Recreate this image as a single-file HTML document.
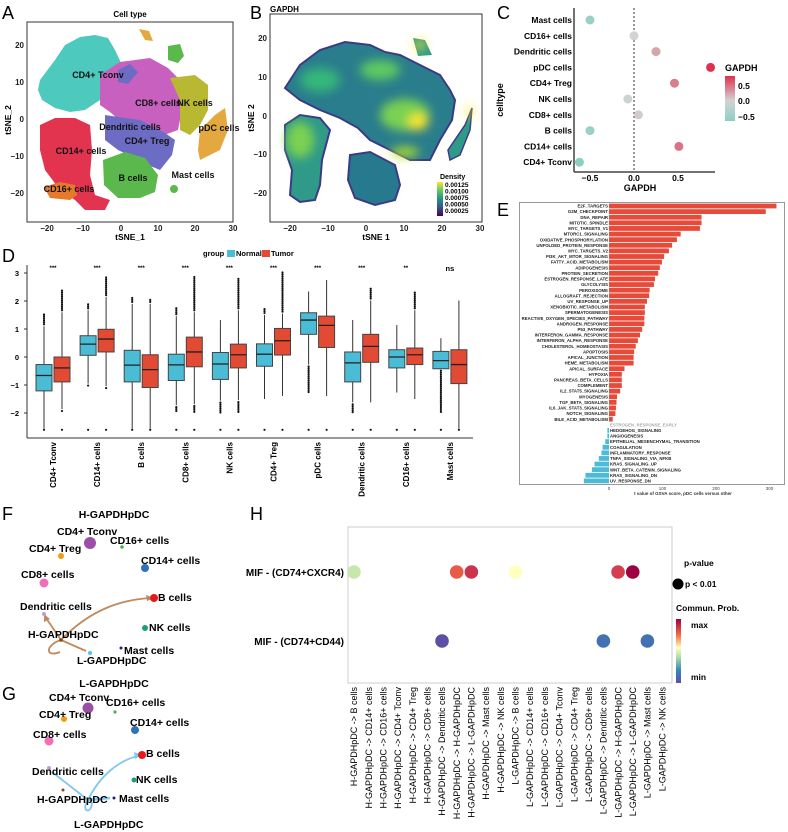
<!DOCTYPE html>
<html><head><meta charset="utf-8"><style>
html,body{margin:0;padding:0;background:#fff;}
svg{display:block;font-family:"Liberation Sans",Arial,sans-serif;}
.b{font-weight:bold;}
</style></head><body>
<svg id="fig" width="788" height="832" viewBox="0 0 788 832">
<defs>
<filter id="bl" x="-50%" y="-50%" width="200%" height="200%"><feGaussianBlur stdDeviation="5"/></filter>
<linearGradient id="vir" x1="0" y1="1" x2="0" y2="0"><stop offset="0" stop-color="#440154"/><stop offset="0.25" stop-color="#3b528b"/><stop offset="0.5" stop-color="#21918c"/><stop offset="0.75" stop-color="#5ec962"/><stop offset="1" stop-color="#fde725"/></linearGradient>
<linearGradient id="gcol" x1="0" y1="1" x2="0" y2="0"><stop offset="0" stop-color="#8ecfc5"/><stop offset="0.45" stop-color="#d3d3d3"/><stop offset="1" stop-color="#e0304f"/></linearGradient>
<linearGradient id="spec" x1="0" y1="1" x2="0" y2="0"><stop offset="0" stop-color="#5e4fa2"/><stop offset="0.2" stop-color="#3288bd"/><stop offset="0.4" stop-color="#abdda4"/><stop offset="0.55" stop-color="#ffffbf"/><stop offset="0.75" stop-color="#f46d43"/><stop offset="1" stop-color="#9e0142"/></linearGradient>
<clipPath id="bclip"><rect x="271" y="15" width="210" height="206"/></clipPath>
</defs>

<!-- Panel letters -->
<text x="2" y="19" font-size="18">A</text>
<text x="250" y="19" font-size="18">B</text>
<text x="497" y="19" font-size="18">C</text>
<text x="497" y="216" font-size="18">E</text>
<text x="2" y="262" font-size="18">D</text>
<text x="2" y="520" font-size="18">F</text>
<text x="250" y="520" font-size="18">H</text>
<text x="2" y="700" font-size="18">G</text>

<!-- Panel A -->
<g id="panelA">
<text x="130" y="17" font-size="8" class="b" text-anchor="middle">Cell type</text>
<polygon fill="#4ec9be" points="38,90 40,80 55,60 65,45 80,37 95,35 108,38 115,50 122,65 112,80 100,100 85,110 70,112 55,108 42,100"/>
<polygon fill="#c760bf" points="100,75 120,62 150,58 168,68 180,80 182,110 178,130 150,140 125,125 110,112 100,105"/>
<polygon fill="#6d6cc5" points="105,115 125,118 140,120 165,133 175,140 172,155 160,170 148,165 135,158 118,150 105,140"/>
<polygon fill="#6d6cc5" points="118,70 130,64 138,72 128,84 118,82"/>
<polygon fill="#b8b832" points="170,78 195,75 208,85 208,110 200,125 190,135 180,130 180,100"/>
<polygon fill="#e3a83e" points="200,130 215,115 225,108 228,130 220,150 200,160 198,150"/>
<polygon fill="#e2344f" points="40,125 55,118 75,118 90,125 92,150 90,175 95,195 110,200 105,210 85,210 75,200 60,190 45,170 40,150"/>
<polygon fill="#e67a2a" points="44,187 60,182 75,185 77,195 70,200 50,198"/>
<polygon fill="#5bb84c" points="103,160 125,152 145,158 158,175 155,192 140,198 118,198 104,185"/>
<polygon fill="#5bb84c" points="168,46 180,44 184,56 178,63 168,60"/>
<polygon fill="#e3a83e" points="139,29 149,31 153,41 145,40"/>
<circle cx="174" cy="189" r="4" fill="#5bb84c"/>
<rect x="27" y="22" width="206" height="200" fill="none" stroke="#333" stroke-width="1"/>
<g font-size="9" class="b" text-anchor="middle" fill="#111">
<text x="98" y="78">CD4+ Tconv</text>
<text x="158" y="106">CD8+ cells</text>
<text x="195" y="106">NK cells</text>
<text x="130" y="130">Dendritic cells</text>
<text x="219" y="131">pDC cells</text>
<text x="147" y="144">CD4+ Treg</text>
<text x="81" y="154">CD14+ cells</text>
<text x="193" y="178">Mast cells</text>
<text x="133" y="181">B cells</text>
<text x="69" y="192">CD16+ cells</text>
</g>
<g font-size="8" class="b" fill="#222">
<text x="47" y="231" text-anchor="middle">−20</text><text x="83" y="231" text-anchor="middle">−10</text><text x="121" y="231" text-anchor="middle">0</text><text x="158" y="231" text-anchor="middle">10</text><text x="195" y="231" text-anchor="middle">20</text><text x="233" y="231" text-anchor="middle">30</text>
<text x="24" y="48" text-anchor="end">20</text><text x="24" y="85" text-anchor="end">10</text><text x="24" y="122" text-anchor="end">0</text><text x="24" y="159" text-anchor="end">−10</text><text x="24" y="196" text-anchor="end">−20</text>
</g>
<text x="130" y="240" font-size="8.5" class="b" text-anchor="middle">tSNE_1</text>
<text x="11" y="120" font-size="8.5" class="b" text-anchor="middle" transform="rotate(-90 11 120)">tSNE_2</text>
</g>

<!-- Panel B -->
<g id="panelB">
<text x="270" y="12" font-size="8" class="b">GAPDH</text>
<g clip-path="url(#bclip)">
<polygon fill="#2a7d8c" stroke="#3b3b85" stroke-width="2" points="285,88 300,65 320,50 345,42 370,45 385,52 400,55 420,65 440,75 450,90 455,100 452,120 440,140 430,160 410,160 390,150 370,140 358,128 340,118 320,110 300,100"/>
<polygon fill="#2f9a88" stroke="#3b3b85" stroke-width="2" points="285,125 300,115 320,118 330,130 322,160 320,185 315,200 300,202 290,195 292,170 285,150"/>
<polygon fill="#277a8e" stroke="#3b3b85" stroke-width="2" points="350,155 370,152 395,165 400,185 395,200 375,205 355,198 348,180"/>
<polygon fill="#2f9a88" stroke="#3b3b85" stroke-width="1.5" points="448,150 465,125 472,108 470,130 460,155 450,160"/>
<polygon fill="#2f9a88" points="413,38 425,40 432,55 418,56"/>
<g filter="url(#bl)">
<ellipse cx="405" cy="115" rx="25" ry="16" fill="#7ad151"/><ellipse cx="418" cy="122" rx="10" ry="8" fill="#fde725"/>
<ellipse cx="380" cy="70" rx="20" ry="10" fill="#5ec962"/><ellipse cx="300" cy="140" rx="14" ry="18" fill="#7ad151"/>
<ellipse cx="405" cy="152" rx="14" ry="5" fill="#b5de2b"/><ellipse cx="420" cy="45" rx="5" ry="5" fill="#fde725"/>
<ellipse cx="320" cy="80" rx="20" ry="12" fill="#35b779"/><ellipse cx="470" cy="112" rx="3" ry="6" fill="#fde725"/>
</g>
</g>
<rect x="270" y="14" width="212" height="208" fill="none" stroke="#333" stroke-width="1"/>
<text x="440" y="179" font-size="7" class="b">Density</text>
<rect x="437" y="182" width="6" height="34" fill="url(#vir)"/>
<g font-size="6.5" class="b"><text x="445" y="187">0.00125</text><text x="445" y="193.5">0.00100</text><text x="445" y="200">0.00075</text><text x="445" y="206.5">0.00050</text><text x="445" y="213">0.00025</text></g>
<g font-size="8" class="b" fill="#222">
<text x="290" y="231" text-anchor="middle">−20</text><text x="328" y="231" text-anchor="middle">−10</text><text x="366" y="231" text-anchor="middle">0</text><text x="404" y="231" text-anchor="middle">10</text><text x="442" y="231" text-anchor="middle">20</text><text x="480" y="231" text-anchor="middle">30</text>
<text x="267" y="41" text-anchor="end">20</text><text x="267" y="80" text-anchor="end">10</text><text x="267" y="119" text-anchor="end">0</text><text x="267" y="157" text-anchor="end">−10</text><text x="267" y="196" text-anchor="end">−20</text>
</g>
<text x="376" y="240" font-size="8.5" class="b" text-anchor="middle">tSNE 1</text>
<text x="254" y="118" font-size="8.5" class="b" text-anchor="middle" transform="rotate(-90 254 118)">tSNE 2</text>
</g>

<g id="panelC"></g>
<g id="panelD"></g>
<g id="panelE"></g>

<!-- Panel F -->
<g id="panelF" font-size="10.5" class="b">
<text x="114" y="518" text-anchor="middle">H-GAPDHpDC</text>
<path d="M61,640 C90,610 120,600 150,598" fill="none" stroke="#c08a5e" stroke-width="1.8"/>
<polygon points="154,598 146,595 147,601" fill="#c08a5e"/>
<path d="M61,640 L46,618" fill="none" stroke="#c08a5e" stroke-width="1.8"/>
<polygon points="44,614 44,622 50,619" fill="#c08a5e"/>
<path d="M61,640 L86,651" fill="none" stroke="#c08a5e" stroke-width="1.8"/>
<path d="M61,640 C45,645 45,658 60,652" fill="none" stroke="#c08a5e" stroke-width="1.8"/>
<circle cx="90" cy="543" r="6" fill="#9b4fa6"/><circle cx="122" cy="547" r="1.8" fill="#4caf50"/>
<circle cx="61" cy="556" r="3" fill="#f39c12"/><circle cx="145" cy="568" r="4" fill="#2f72b8"/>
<circle cx="44" cy="583" r="4.5" fill="#f06fb8"/><circle cx="154" cy="598" r="4" fill="#e41a1c"/>
<circle cx="44" cy="614" r="2" fill="#c39bd3"/><circle cx="145" cy="628" r="3" fill="#1a9e77"/>
<circle cx="61" cy="640" r="1.8" fill="#8b4513"/><circle cx="121" cy="648" r="1.5" fill="#1a237e"/>
<circle cx="90" cy="653" r="2" fill="#4fc3f7"/>
<text x="57" y="535">CD4+ Tconv</text><text x="110" y="544">CD16+ cells</text>
<text x="29" y="552">CD4+ Treg</text><text x="141" y="564">CD14+ cells</text>
<text x="21" y="578">CD8+ cells</text><text x="158" y="601">B cells</text>
<text x="20" y="610">Dendritic cells</text><text x="149" y="631">NK cells</text>
<text x="28" y="638">H-GAPDHpDC</text><text x="124" y="654">Mast cells</text>
<text x="77" y="664">L-GAPDHpDC</text>
</g>

<!-- Panel G -->
<g id="panelG" font-size="10.5" class="b">
<text x="114" y="687" text-anchor="middle">L-GAPDHpDC</text>
<path d="M88,800 C100,775 120,760 138,756" fill="none" stroke="#81c8ef" stroke-width="1.8"/>
<polygon points="142,755 134,752 135,759" fill="#81c8ef"/>
<path d="M88,800 L52,772" fill="none" stroke="#81c8ef" stroke-width="1.8"/>
<path d="M88,800 L110,798" fill="none" stroke="#81c8ef" stroke-width="2.5"/>
<path d="M88,800 C80,812 92,815 92,802" fill="none" stroke="#81c8ef" stroke-width="1.8"/>
<circle cx="88" cy="708" r="5.5" fill="#9b4fa6"/><circle cx="115" cy="712" r="1.6" fill="#4caf50"/>
<circle cx="64" cy="719" r="3" fill="#f39c12"/><circle cx="135" cy="730" r="4" fill="#2f72b8"/>
<circle cx="49" cy="741" r="4.5" fill="#f06fb8"/><circle cx="142" cy="755" r="4" fill="#e41a1c"/>
<circle cx="49" cy="768" r="2" fill="#c39bd3"/><circle cx="134" cy="780" r="2.5" fill="#1a9e77"/>
<circle cx="63" cy="790" r="1.5" fill="#8b4513"/><circle cx="114" cy="798" r="1.5" fill="#1a237e"/>
<text x="49" y="701">CD4+ Tconv</text><text x="106" y="706">CD16+ cells</text>
<text x="39" y="718">CD4+ Treg</text><text x="130" y="726">CD14+ cells</text>
<text x="33" y="738">CD8+ cells</text><text x="146" y="757">B cells</text>
<text x="32" y="775">Dendritic cells</text><text x="136" y="783">NK cells</text>
<text x="37" y="803">H-GAPDHpDC</text><text x="119" y="802">Mast cells</text>
<text x="74" y="828">L-GAPDHpDC</text>
</g>

<g id="panelH"></g>
</svg>

<script>
// ---------- Panel C data ----------
var cCells = ["Mast cells","CD16+ cells","Dendritic cells","pDC cells","CD4+ Treg","NK cells","CD8+ cells","B cells","CD14+ cells","CD4+ Tconv"];
var cValues = [-0.5, 0.0, 0.25, 0.87, 0.46, -0.07, 0.05, -0.5, 0.51, -0.62];
var cTicks = [-0.5, 0.0, 0.5];

// ---------- Panel D data ----------
var dGroups = ["CD4+ Tconv","CD14+ cells","B cells","CD8+ cells","NK cells","CD4+ Treg","pDC cells","Dendritic cells","CD16+ cells","Mast cells"];
var dSig = ["***","***","***","***","***","***","***","***","**","ns"];
var dNormalStats = [[-2.56,-1.21,-0.66,-0.27,1.1],[-0.95,0.06,0.46,0.76,1.67],[-2.56,-0.89,-0.29,0.24,1.9],[-1.72,-0.84,-0.28,0.1,1.46],[-1.56,-0.8,-0.25,0.16,1.32],[-1.5,-0.33,0.1,0.47,1.5],[-0.27,0.81,1.32,1.58,2.34],[-1.62,-0.89,-0.21,0.18,1.32],[-1.27,-0.39,0.0,0.26,1.14],[-0.42,-0.42,-0.13,0.2,0.67]];
var dTumorStats = [[-1.86,-0.89,-0.39,0.0,1.6],[-1.04,0.18,0.64,0.99,2.14],[-2.56,-1.09,-0.45,0.08,1.9],[-1.68,-0.35,0.18,0.71,1.6],[-1.54,-0.39,0.08,0.46,1.67],[-1.39,0.07,0.58,1.02,1.55],[-1.39,0.34,1.13,1.46,2.75],[-1.62,-0.19,0.38,0.81,2.02],[-1.5,-0.27,0.08,0.32,1.67],[-2.56,-0.95,-0.27,0.26,2.02]];
var dNormalOutMax = [1.55,1.95,2.15,1.8,1.32,1.75,2.34,1.32,1.14,0.67];
var dTumorOutMax = [2.4,2.9,2.1,2.9,2.8,3.05,2.75,2.45,2.3,2.02];
var dNormalOutMin = [-2.6,-1.55,-2.6,-2.6,-2.6,-1.75,-1.8,-2.6,-1.7,-2.6];
var dTumorOutMin = [-2.6,-1.65,-2.6,-2.6,-2.6,-1.65,-1.9,-1.8,-1.6,-2.6];
var dTicks = [-2,-1,0,1,2,3];

// ---------- Panel E data ----------
var ePathways = ["E2F_TARGETS","G2M_CHECKPOINT","DNA_REPAIR","MITOTIC_SPINDLE","MYC_TARGETS_V1","MTORC1_SIGNALING","OXIDATIVE_PHOSPHORYLATION","UNFOLDED_PROTEIN_RESPONSE","MYC_TARGETS_V2","PI3K_AKT_MTOR_SIGNALING","FATTY_ACID_METABOLISM","ADIPOGENESIS","PROTEIN_SECRETION","ESTROGEN_RESPONSE_LATE","GLYCOLYSIS","PEROXISOME","ALLOGRAFT_REJECTION","UV_RESPONSE_UP","XENOBIOTIC_METABOLISM","SPERMATOGENESIS","REACTIVE_OXYGEN_SPECIES_PATHWAY","ANDROGEN_RESPONSE","P53_PATHWAY","INTERFERON_GAMMA_RESPONSE","INTERFERON_ALPHA_RESPONSE","CHOLESTEROL_HOMEOSTASIS","APOPTOSIS","APICAL_JUNCTION","HEME_METABOLISM","APICAL_SURFACE","HYPOXIA","PANCREAS_BETA_CELLS","COMPLEMENT","IL2_STAT5_SIGNALING","MYOGENESIS","TGF_BETA_SIGNALING","IL6_JAK_STAT3_SIGNALING","NOTCH_SIGNALING","BILE_ACID_METABOLISM","ESTROGEN_RESPONSE_EARLY","HEDGEHOG_SIGNALING","ANGIOGENESIS","EPITHELIAL_MESENCHYMAL_TRANSITION","COAGULATION","INFLAMMATORY_RESPONSE","TNFA_SIGNALING_VIA_NFKB","KRAS_SIGNALING_UP","WNT_BETA_CATENIN_SIGNALING","KRAS_SIGNALING_DN","UV_RESPONSE_DN"];
var eValues = [313,293,173,173,170,134,127,118,112,103,99,95,92,86,84,76,75,71,67,67,66,66,62,58,54,50,47,46,46,29,24,24,24,21,15,14,13,12,7,0,-3,-3,-7,-12,-14,-19,-27,-32,-44,-47];
var eTicks = [0,100,200,300];

// ---------- Panel H data ----------
var hRows = ["MIF - (CD74+CXCR4)","MIF - (CD74+CD44)"];
var hCols = ["H-GAPDHpDC -> B cells","H-GAPDHpDC -> CD14+ cells","H-GAPDHpDC -> CD16+ cells","H-GAPDHpDC -> CD4+ Tconv","H-GAPDHpDC -> CD4+ Treg","H-GAPDHpDC -> CD8+ cells","H-GAPDHpDC -> Dendritic cells","H-GAPDHpDC -> H-GAPDHpDC","H-GAPDHpDC -> L-GAPDHpDC","H-GAPDHpDC -> Mast cells","H-GAPDHpDC -> NK cells","L-GAPDHpDC -> B cells","L-GAPDHpDC -> CD14+ cells","L-GAPDHpDC -> CD16+ cells","L-GAPDHpDC -> CD4+ Tconv","L-GAPDHpDC -> CD4+ Treg","L-GAPDHpDC -> CD8+ cells","L-GAPDHpDC -> Dendritic cells","L-GAPDHpDC -> H-GAPDHpDC","L-GAPDHpDC -> L-GAPDHpDC","L-GAPDHpDC -> Mast cells","L-GAPDHpDC -> NK cells"];
var hDotRow = [0,0,0,0,0,0,1,1,1];
var hDotCol = [0,7,8,11,18,19,6,17,20];
var hDotProb = [0.45,0.8,0.9,0.55,0.88,1.0,0.0,0.12,0.12];

var NS = "http://www.w3.org/2000/svg";
function el(tag, attrs, parent){ var e=document.createElementNS(NS,tag); for(var k in attrs) e.setAttribute(k,attrs[k]); parent.appendChild(e); return e; }
function txt(s, attrs, parent){ var e=el("text",attrs,parent); e.textContent=s; return e; }
function lerpC(a,b,t){ var pa=[parseInt(a.substr(1,2),16),parseInt(a.substr(3,2),16),parseInt(a.substr(5,2),16)], pb=[parseInt(b.substr(1,2),16),parseInt(b.substr(3,2),16),parseInt(b.substr(5,2),16)]; return "rgb("+pa.map(function(v,i){return Math.round(v+(pb[i]-v)*t);}).join(",")+")"; }

// ---------- Panel C ----------
(function(){
  var g=document.getElementById("panelC");
  var x=function(v){return 634+v*88;};
  var y=function(i){return 20+i*15.8;};
  el("line",{x1:574,y1:8,x2:574,y2:172,stroke:"#444","stroke-width":1.5},g);
  el("line",{x1:574,y1:172,x2:715,y2:172,stroke:"#444","stroke-width":1.5},g);
  var zl=el("line",{x1:x(0),y1:8,x2:x(0),y2:172,stroke:"#333","stroke-dasharray":"2,2","stroke-width":1},g);
  
  
  for(var i=0;i<cTicks.length;i++){
    var t=txt(cTicks[i].toFixed(1).replace("-","−"),{x:x(cTicks[i]),y:181,"font-size":8.5,"font-weight":"bold","text-anchor":"middle"},g);
    
    
  }
  var at=txt("GAPDH",{x:640,y:191,"font-size":9,"font-weight":"bold","text-anchor":"middle"},g);
  
  
  var yt=txt("celltype",{x:503,y:100,"font-size":9,"font-weight":"bold","text-anchor":"middle",transform:"rotate(-90 503 100)"},g);
  
  
  for(var i=0;i<cCells.length;i++){
    var lb=txt(cCells[i],{x:572,y:y(i)+3,"font-size":8.5,"font-weight":"bold","text-anchor":"end"},g);
    
    
    var v=cValues[i], col;
    if(v<0) col=lerpC("#d3d3d3","#8ecfc5",Math.min(1,-v/0.6)); else col=lerpC("#d3d3d3","#e0304f",Math.min(1,v/0.87));
    var c=el("circle",{cx:x(v),cy:y(i),r:4.5,fill:col},g);
    
    
  }
  var lt=txt("GAPDH",{x:725,y:71,"font-size":9,"font-weight":"bold"},g);
  
  
  var cb=el("rect",{x:725,y:76,width:10,height:45,fill:"url(#gcol)"},g);
  
  
  txt("0.5",{x:738,y:89,"font-size":8.5,"font-weight":"bold"},g);
  txt("0.0",{x:738,y:104,"font-size":8.5,"font-weight":"bold"},g);
  txt("−0.5",{x:738,y:120,"font-size":8.5,"font-weight":"bold"},g);
})();

// ---------- Panel D ----------
(function(){
  var g=document.getElementById("panelD");
  var y=function(v){return 357-v*28;};
  var cx=function(i){return 53+i*44.1;};
  el("line",{x1:27,y1:265,x2:27,y2:438,stroke:"#333","stroke-width":1},g);
  el("line",{x1:27,y1:438,x2:473,y2:438,stroke:"#333","stroke-width":1},g);
  for(var k=0;k<dTicks.length;k++){
    var t=txt(String(dTicks[k]).replace("-","−"),{x:19,y:y(dTicks[k])+3,"font-size":7.5,"font-weight":"bold","text-anchor":"end"},g);
    
    
    el("line",{x1:24,y1:y(dTicks[k]),x2:27,y2:y(dTicks[k]),stroke:"#333"},g);
  }
  txt("group",{x:203,y:256,"font-size":7.5,"font-weight":"bold"},g);
  el("rect",{x:227,y:250,width:8,height:7,fill:"#4bbcd6"},g);
  txt("Normal",{x:236,y:256,"font-size":7.5,"font-weight":"bold"},g);
  el("rect",{x:262,y:250,width:8,height:7,fill:"#e34a33"},g);
  txt("Tumor",{x:271,y:256,"font-size":7.5,"font-weight":"bold"},g);
  function box(xc,s,omax,omin,fill,name){
    var gg=el("g",{},g);
    
    
    el("line",{x1:xc,y1:y(s[0]),x2:xc,y2:y(s[4]),stroke:"#333","stroke-width":1},gg);
    for(var v=s[4]+0.07; v<=omax; v+=0.07) el("circle",{cx:xc,cy:y(v),r:1.1,fill:"#111"},gg);
    for(var v=s[0]-0.07; v>=omin+0.5 && v>-2.0; v-=0.07) el("circle",{cx:xc,cy:y(v),r:1.1,fill:"#111"},gg);
    el("circle",{cx:xc,cy:y(-2.6),r:1.1,fill:"#111"},gg);
    el("rect",{x:xc-8,y:y(s[3]),width:16,height:y(s[1])-y(s[3]),fill:fill,stroke:"#444","stroke-width":1},gg);
    el("line",{x1:xc-8,y1:y(s[2]),x2:xc+8,y2:y(s[2]),stroke:"#222","stroke-width":1.3},gg);
  }
  for(var i=0;i<dGroups.length;i++){
    box(cx(i)-9,dNormalStats[i],dNormalOutMax[i],dNormalOutMin[i],"#4bbcd6","box-normal-"+i);
    box(cx(i)+9,dTumorStats[i],dTumorOutMax[i],dTumorOutMin[i],"#e34a33","box-tumor-"+i);
    var s=txt(dSig[i],{x:cx(i),y:dSig[i]=="ns"?271:270,"font-size":dSig[i]=="ns"?7.5:6,"font-weight":"bold","text-anchor":"middle"},g);
    
    
    var l=txt(dGroups[i],{x:cx(i)+3,y:442,"font-size":8,"font-weight":"bold","text-anchor":"end",transform:"rotate(-90 "+(cx(i)+3)+" 442)"},g);
    
    
  }
})();

// ---------- Panel E ----------
(function(){
  var g=document.getElementById("panelE");
  var x=function(v){return 609+v*0.535;};
  var y=function(i){return 206+i*5.61;};
  var fr=el("rect",{x:519.5,y:202.5,width:265,height:282,fill:"none",stroke:"#999","stroke-width":1},g);
  
  
  for(var i=0;i<ePathways.length;i++){
    var v=eValues[i];
    var b=el("rect",{x:Math.min(x(0),x(v)),y:y(i)-2.4,width:Math.abs(x(v)-x(0)),height:4.8,fill:v>=0?"#e84a3a":"#4dbbd6"},g);
    
    
    var grey=(v==0);
    var t=txt(ePathways[i],{x:v>0?x(0)-1:x(0)+1,y:y(i)+1.6,"font-size":4.3,"font-weight":"bold","text-anchor":v>0?"end":"start",fill:grey?"#aaa":"#222"},g);
    
    
  }
  for(var k=0;k<eTicks.length;k++){
    var t=txt(String(eTicks[k]),{x:x(eTicks[k]),y:490,"font-size":4.5,"text-anchor":"middle",fill:"#444"},g);
    
    
  }
  var at=txt("t value of GSVA score, pDC cells versus other",{x:683,y:495,"font-size":4.5,"font-weight":"bold","text-anchor":"middle",fill:"#333"},g);
  
  
})();

// ---------- Panel H ----------
(function(){
  var g=document.getElementById("panelH");
  var x=function(j){return 354+j*14.67;};
  var rowY=[572,641];
  var y=function(r){return rowY[r];};
  var fr=el("rect",{x:348,y:527,width:324,height:156,fill:"none",stroke:"#ccc","stroke-width":1},g);
  
  
  for(var r=0;r<hRows.length;r++){
    var t=txt(hRows[r],{x:344,y:y(r)+4,"font-size":10,"font-weight":"bold","text-anchor":"end"},g);
    
    
  }
  for(var j=0;j<hCols.length;j++){
    var t=txt(hCols[j],{x:x(j)+3.2,y:687,"font-size":9,"text-anchor":"end",transform:"rotate(-90 "+(x(j)+3.2)+" 687)"},g);
    
    
  }
  var stops=[[0,"#5e4fa2"],[0.2,"#3288bd"],[0.4,"#abdda4"],[0.55,"#ffffbf"],[0.75,"#f46d43"],[0.88,"#d53e4f"],[1,"#9e0142"]];
  function spec(p){ for(var k=1;k<stops.length;k++){ if(p<=stops[k][0]) return lerpC(stops[k-1][1],stops[k][1],(p-stops[k-1][0])/(stops[k][0]-stops[k-1][0])); } return stops[stops.length-1][1]; }
  for(var d=0;d<hDotRow.length;d++){
    var c=el("circle",{cx:x(hDotCol[d]),cy:y(hDotRow[d]),r:6.8,fill:spec(hDotProb[d])},g);
    
    
  }
  txt("p-value",{x:684,y:566,"font-size":8.5,"font-weight":"bold"},g);
  el("circle",{cx:678,cy:584,r:5.5,fill:"#000"},g);
  txt("p < 0.01",{x:685,y:587,"font-size":8.5,"font-weight":"bold"},g);
  txt("Commun. Prob.",{x:676,y:611,"font-size":8.5,"font-weight":"bold"},g);
  var cb=el("rect",{x:676,y:619,width:5,height:64,fill:"url(#spec)"},g);
  
  
  txt("max",{x:691,y:628,"font-size":8.5,"font-weight":"bold"},g);
  txt("min",{x:691,y:680,"font-size":8.5,"font-weight":"bold"},g);
})();
</script>
</body></html>
